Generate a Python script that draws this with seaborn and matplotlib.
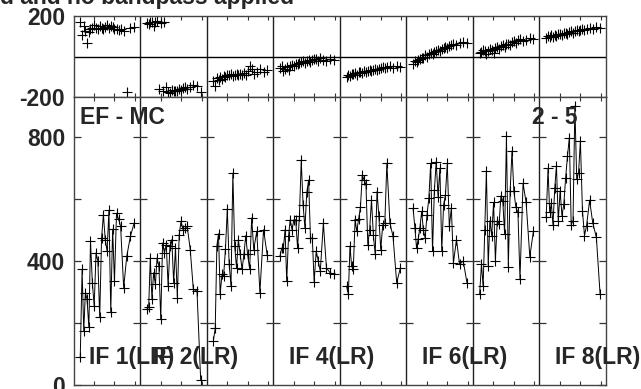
import numpy as np
import pandas as pd
import matplotlib
matplotlib.use("Agg")
import matplotlib.pyplot as plt
import seaborn as sns

# --------------------------------------------------
# DATA
# --------------------------------------------------
# sample times inside one IF panel (hours), shared by all IFs
times = [0.33, 0.42, 0.50, 0.58, 0.66, 0.75, 0.83, 0.92, 1.01, 1.10,
         1.19, 1.28, 1.37, 1.46, 1.55, 1.64, 1.73, 1.82, 1.91, 2.00,
         2.10, 2.20, 2.30, 2.45, 2.60, 2.78, 2.96]

amp_if1 = [90, 373, 175, 298, 277, 186, 464, 330, 255, 426, 400, 218, 474, 549,
           469, 432, 563, 236, 503, 335, 554, 535, 512, 314, 415, 480, 522]
amp_if2 = [245, 250, 410, 277, 362, 325, 410, 383, 213, 458, 426, 453, 319, 448,
           469, 330, 442, 282, 485, 528, 501, 506, 512, 437, 309, 303, 15]
amp_if3 = [143, 183, 448, 488, 293, 357, 352, 440, 568, 389, 319, 683, 448, 378,
           469, 421, 373, 421, 482, 421, 375, 539, 437, 496, 298, 501, 418]
amp_if4 = [416, 442, 442, 501, 335, 480, 533, 501, 533, 533, 442, 544, 725, 581,
           506, 621, 661, 474, 474, 332, 432, 400, 367, 522, 378, 362, 357]
amp_if5 = [319, 293, 448, 383, 373, 533, 496, 535, 574, 677, 661, 647, 453, 501,
           597, 485, 421, 624, 544, 437, 517, 522, 715, 522, 480, 330, 378]
amp_if6 = [570, 506, 442, 470, 506, 560, 501, 474, 549, 602, 715, 432, 629, 720,
           608, 699, 432, 581, 613, 715, 512, 570, 394, 469, 389, 400, 330]
amp_if7 = [294, 390, 318, 500, 691, 385, 530, 482, 589, 401, 530, 519, 610, 594,
           487, 803, 382, 626, 755, 626, 573, 557, 342, 650, 589, 414, 498]
amp_if8 = [541, 699, 557, 586, 517, 637, 707, 530, 626, 546, 583, 669, 739, 798,
           517, 530, 900, 664, 685, 787, 562, 482, 514, 596, 524, 476, 294]

phase_if1 = [172, 106, 150, 125, 65, 122, 135, 139, 155, 142, 138, 150, 140, 135,
             145, 155, 140, 150, 145, 135, 138, 130, 135, 128, -174, 140, 147]
phase_if2 = [165, 160, 170, 172, 150, 168, 175, -160, 165, -172, 168, -150, -175, -178,
             -165, -170, -172, -168, -160, -165, -158, -150, -160, -152, -141, -148, -175]
phase_if3 = [-120, -145, -105, -115, -100, -110, -95, -100, -90, -92, -88, -95, -92, -85,
             -90, -88, -92, -80, -90, -70, -45, -62, -88, -75, -60, -78, -65]
phase_if4 = [-55, -45, -70, -60, -50, -65, -48, -40, -45, -35, -38, -30, -28, -22,
             -30, -20, -15, -25, -18, -10, -12, -20, -8, -15, -22, -10, -15]
phase_if5 = [-100, -92, -95, -85, -88, -80, -90, -78, -75, -80, -72, -76, -70, -68,
             -72, -65, -60, -68, -62, -55, -50, -58, -52, -48, -55, -45, -50]
phase_if6 = [-35, -20, -28, -15, -10, -5, -8, 5, 0, 10, 15, 12, 20, 25,
             30, 28, 35, 40, 45, 42, 50, 55, 60, 58, 65, 70, 68]
phase_if7 = [15, 20, 30, 25, 10, 28, 35, 30, 15, 40, 45, 38, 50, 55,
             48, 60, 62, 58, 70, 75, 68, 80, 85, 78, 82, 90, 85]
phase_if8 = [90, 100, 95, 105, 98, 108, 102, 110, 112, 105, 115, 118, 112, 120,
             125, 118, 128, 130, 125, 132, 135, 130, 138, 140, 135, 145, 142]

amps = [amp_if1, amp_if2, amp_if3, amp_if4, amp_if5, amp_if6, amp_if7, amp_if8]
phases = [phase_if1, phase_if2, phase_if3, phase_if4,
          phase_if5, phase_if6, phase_if7, phase_if8]

if_labels = ["IF 1(LR)", "IF 2(LR)", "IF 4(LR)", "IF 6(LR)", "IF 8(LR)"]
if_label_panels = [0, 1, 3, 5, 7]

PANEL = 3.25  # hours covered by one IF panel

# --------------------------------------------------
# BUILD TABLE
# --------------------------------------------------
rows = []
for k, (amp, ph) in enumerate(zip(amps, phases)):
    for t, a, p in zip(times, amp, ph):
        rows.append({"IF": k + 1, "x": k * PANEL + t, "amp": a, "phase": p})
df = pd.DataFrame(rows)

# --------------------------------------------------
# PLOT
# --------------------------------------------------
sns.set_style("white")
plt.rcParams["font.family"] = ["Liberation Sans", "DejaVu Sans"]
plt.rcParams["font.weight"] = "bold"

W, H = 641, 389
fig = plt.figure(figsize=(W / 100, H / 100), dpi=100)

left, right = 73.5 / W, 606 / W
y_top, y_mid, y_bot = 16, 97, 385
ax_ph = fig.add_axes([left, 1 - y_mid / H, right - left, (y_mid - y_top) / H])
ax_amp = fig.add_axes([left, 1 - y_bot / H, right - left, (y_bot - y_mid) / H],
                      sharex=ax_ph)

sns.scatterplot(data=df, x="x", y="phase", marker="+", color="black",
                s=48, linewidth=0.8, ax=ax_ph, legend=False)
sns.lineplot(data=df, x="x", y="amp", units="IF", estimator=None,
             color="black", lw=0.7, marker="+", markersize=7,
             markeredgewidth=0.8, markeredgecolor="black",
             ax=ax_amp, legend=False)

ax_ph.set_xlim(0, 8 * PANEL)
ax_ph.set_ylim(-200, 200)
ax_amp.set_ylim(0, 929)

minor = [k * PANEL + h for k in range(8) for h in (1, 2, 3)]
dividers = [k * PANEL for k in range(1, 8)]

for ax in (ax_ph, ax_amp):
    ax.set_xlabel("")
    ax.set_ylabel("")
    ax.set_xticks(minor)
    ax.tick_params(axis="x", direction="in", length=3, width=0.8,
                   top=True, bottom=True, labelbottom=False, color="#333333")
    for s in ax.spines.values():
        s.set_color("#444444")
        s.set_linewidth(1.0)
    for xd in dividers:
        ax.axvline(xd, color="#222222", lw=1.0)

ax_ph.axhline(0, color="black", lw=1.0)
ax_ph.set_yticks([-200, 200], labels=["-200", "200"])
ax_ph.tick_params(axis="y", length=0, pad=6, labelsize=16.5)

ax_amp.set_yticks([0, 200, 400, 600, 800], labels=["0", "", "400", "", "800"])
ax_amp.tick_params(axis="y", direction="in", length=5, width=0.9,
                   left=True, right=True, pad=6, labelsize=16.5, color="#333333")
for xd in dividers:
    ax_amp.plot([xd] * 4, [200, 400, 600, 800], ls="none", marker="_",
                ms=10, mew=0.9, color="#333333")

# IF labels along the bottom
offsets = {1: 0.63}
for lab, k in zip(if_labels, if_label_panels):
    ax_amp.text(k * PANEL + offsets.get(k, 0.78), 0.073, lab,
                transform=ax_amp.get_xaxis_transform(),
                fontsize=16.5, fontweight="bold", ha="left", va="baseline")

fig.text(0, 1 - 4 / H, "d and no bandpass applied", fontsize=16.5,
         fontweight="bold", ha="left", va="baseline")
fig.text(80 / W, 1 - 124 / H, "EF - MC", fontsize=16.5,
         fontweight="bold", ha="left", va="baseline")
fig.text(577 / W, 1 - 124 / H, "2 - 5", fontsize=16.5,
         fontweight="bold", ha="right", va="baseline")

fig.savefig("out.png", dpi=100)
